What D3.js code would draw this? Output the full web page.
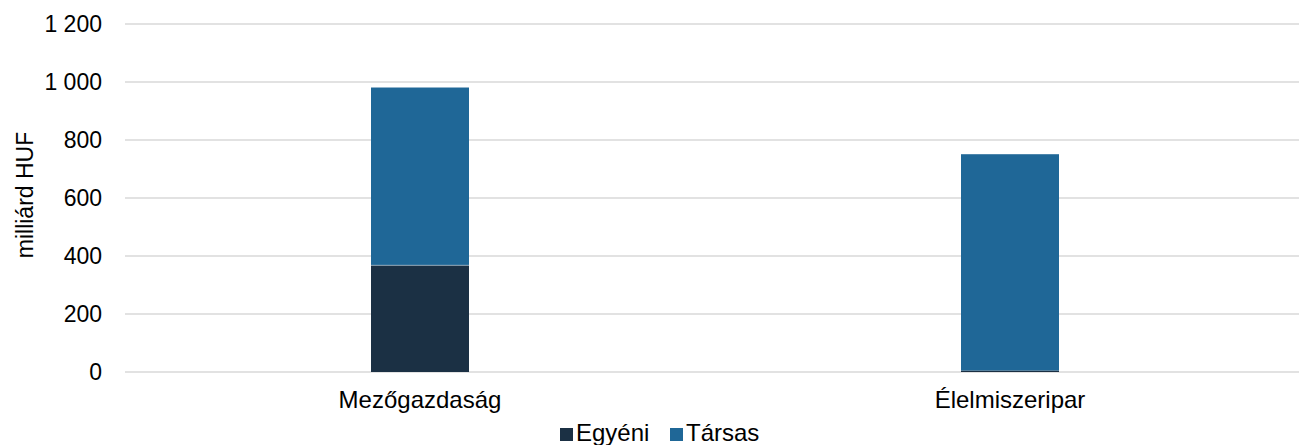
<!DOCTYPE html>
<html>
<head>
<meta charset="utf-8" />
<script src="https://d3js.org/d3.v7.min.js"></script>
<style>
  body { margin: 0; background: #fff; }
  text { font-family: "Liberation Sans", Arial, sans-serif; fill: #000; }
</style>
</head>
<body>
<div id="canvas"></div>
<script>
// adatok
var categories = ["Mezőgazdaság", "Élelmiszeripar"];
var seriesNames = ["Egyéni", "Társas"];
var egyeni = [368, 5];
var tarsas = [613, 746];
var yTicks = [0, 200, 400, 600, 800, 1000, 1200];
var colors = ["#1b3044", "#1f6797"];

var width = 1299, height = 445;
var plotLeft = 125, plotTop = 24, plotBottom = 372;

var svg = d3.select("#canvas").append("svg")
  .attr("width", width).attr("height", height);

var x = d3.scaleBand().domain(categories).range([plotLeft, 1305]);
var y = d3.scaleLinear().domain([0, 1200]).range([plotBottom, plotTop]);
var barW = 98;

// rácsvonalak
svg.append("g").selectAll("line").data(yTicks).enter().append("line")
  .attr("x1", plotLeft).attr("x2", width)
  .attr("y1", function(d){ return y(d); })
  .attr("y2", function(d){ return y(d); })
  .attr("stroke", "#d9d9d9").attr("stroke-width", 1.3);

// tengely feliratok
svg.append("g").selectAll("text").data(yTicks).enter().append("text")
  .attr("x", 102).attr("y", function(d){ return y(d); })
  .attr("dy", "0.35em").attr("text-anchor", "end")
  .style("font-size", "23px")
  .text(function(d){ return d3.format(",")(d).replace(",", " "); });

svg.append("text")
  .attr("transform", "translate(33,195) rotate(-90)")
  .attr("text-anchor", "middle").style("font-size", "23px")
  .text("milliárd HUF");

// halmozott oszlopok
var rows = categories.map(function(c, i){
  return { cat: c, "Egyéni": egyeni[i], "Társas": tarsas[i] };
});
var stack = d3.stack().keys(seriesNames)(rows);

svg.append("g").selectAll("g").data(stack).enter().append("g")
  .attr("fill", function(d, i){ return colors[i]; })
  .selectAll("rect").data(function(d){ return d; }).enter().append("rect")
  .attr("x", function(d){ return x(d.data.cat) + x.bandwidth() / 2 - barW / 2; })
  .attr("width", barW)
  .attr("y", function(d){ return y(d[1]); })
  .attr("height", function(d){ return y(d[0]) - y(d[1]); });

// vékony világos elválasztó a szegmensek között
svg.append("g").selectAll("line").data(rows.filter(function(r){ return r["Egyéni"] > 50; }))
  .enter().append("line")
  .attr("x1", function(d){ return x(d.cat) + x.bandwidth() / 2 - barW / 2; })
  .attr("x2", function(d){ return x(d.cat) + x.bandwidth() / 2 + barW / 2; })
  .attr("y1", function(d){ return y(d["Egyéni"]); })
  .attr("y2", function(d){ return y(d["Egyéni"]); })
  .attr("stroke", "#ffffff").attr("stroke-opacity", 0.4).attr("stroke-width", 1);

// kategória feliratok
svg.append("g").selectAll("text").data(categories).enter().append("text")
  .attr("x", function(d){ return x(d) + x.bandwidth() / 2; })
  .attr("y", 408).attr("text-anchor", "middle")
  .style("font-size", "24px")
  .text(function(d){ return d; });

// jelmagyarázat
var legend = svg.append("g");
var lx = [560, 670];
seriesNames.forEach(function(s, i){
  legend.append("rect").attr("x", lx[i]).attr("y", 428)
    .attr("width", 13).attr("height", 13).attr("fill", colors[i]);
  legend.append("text").attr("x", lx[i] + 16).attr("y", 441)
    .style("font-size", "24px").text(s);
});
</script>
</body>
</html>
